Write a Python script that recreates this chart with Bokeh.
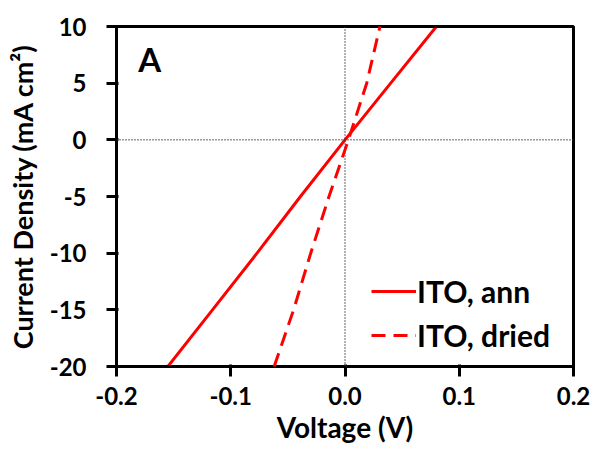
from bokeh.plotting import figure
from bokeh.models import Span, Label, Legend, LegendItem, Range1d, FixedTicker
from bokeh.embed import file_html
from bokeh.resources import INLINE

# Data
j_values = [-20, -15, -10, -5, 0, 5, 10]
v_ann = [-0.155, -0.116, -0.077, -0.039, 0.0, 0.040, 0.080]
v_dried = [-0.062, -0.045, -0.030, -0.014, 0.003, 0.019, 0.0306]
x_ticks = [-0.2, -0.1, 0.0, 0.1, 0.2]
y_ticks = [-20, -15, -10, -5, 0, 5, 10]
series_names = ["ITO, ann", "ITO, dried"]

FONT = "Lato"

p = figure(width=590, height=450, output_backend="svg", toolbar_location=None,
           x_range=Range1d(x_ticks[0], x_ticks[-1]), y_range=Range1d(y_ticks[0], y_ticks[-1]),
           min_border_left=116, min_border_right=17, min_border_top=26, min_border_bottom=84)
p.grid.grid_line_color = None
p.outline_line_color = "#000000"
p.outline_line_width = 3

for ax in (p.xaxis[0], p.yaxis[0]):
    ax.axis_line_width = 3
    ax.axis_line_color = "#000000"
    ax.major_tick_line_width = 3
    ax.major_tick_line_color = "#000000"
    ax.major_tick_in = 2
    ax.major_tick_out = 10
    ax.minor_tick_line_color = None
    ax.major_label_text_font = FONT
    ax.major_label_text_font_style = "bold"
    ax.major_label_text_font_size = "24px"
    ax.major_label_text_color = "black"
    ax.axis_label_text_font = FONT
    ax.axis_label_text_font_style = "bold"
    ax.axis_label_text_color = "black"

p.xaxis[0].axis_label_text_font_size = "28px"
p.yaxis[0].axis_label_text_font_size = "27px"
p.xaxis[0].ticker = FixedTicker(ticks=x_ticks)
p.yaxis[0].ticker = FixedTicker(ticks=y_ticks)
p.xaxis[0].major_label_overrides = {t: f"{t:.1f}" for t in x_ticks}
p.yaxis[0].major_label_overrides = {t: f"{t}" for t in y_ticks}
p.xaxis[0].major_label_standoff = 10
p.yaxis[0].major_label_standoff = 20
p.xaxis[0].axis_label = "Voltage (V)"
p.yaxis[0].axis_label = "Current Density (mA cm\u00b2)"
p.xaxis[0].axis_label_standoff = 2
p.yaxis[0].axis_label_standoff = 8

# plot box drawn at the range limits (drawn before anything dashed)
for loc in (x_ticks[0], x_ticks[-1]):
    p.add_layout(Span(location=loc, dimension="height", line_color="#000000", line_width=3))
for loc in (y_ticks[0], y_ticks[-1]):
    p.add_layout(Span(location=loc, dimension="width", line_color="#000000", line_width=3))

# dotted zero lines
p.add_layout(Span(location=0, dimension="width", line_color="#333333", line_width=1.5, line_dash="1 2"))
p.add_layout(Span(location=0, dimension="height", line_color="#333333", line_width=1.5, line_dash="1 2"))

r1 = p.line(v_ann, j_values, line_color="#FF0000", line_width=3)
# dashed series painted last, at overlay level
r2 = p.line(v_dried, j_values, line_color="#FF0000", line_width=3, line_dash="14 8", level="overlay")

legend = Legend(items=[LegendItem(label=series_names[0], renderers=[r1]),
                       LegendItem(label=series_names[1], renderers=[r2])],
                location=(255, 13), padding=0, margin=0, spacing=8,
                glyph_width=45, glyph_height=30, label_height=30, label_standoff=1,
                background_fill_alpha=0, border_line_color=None,
                label_text_font=FONT, label_text_font_style="bold",
                label_text_font_size="30px", label_text_color="black")
p.add_layout(legend)

p.add_layout(Label(x=-0.181, y=7.1, text="A", text_font=FONT, text_font_style="bold",
                   text_font_size="33px", text_color="black", text_baseline="alphabetic"))

open("out.html", "w").write(file_html(p, INLINE))
